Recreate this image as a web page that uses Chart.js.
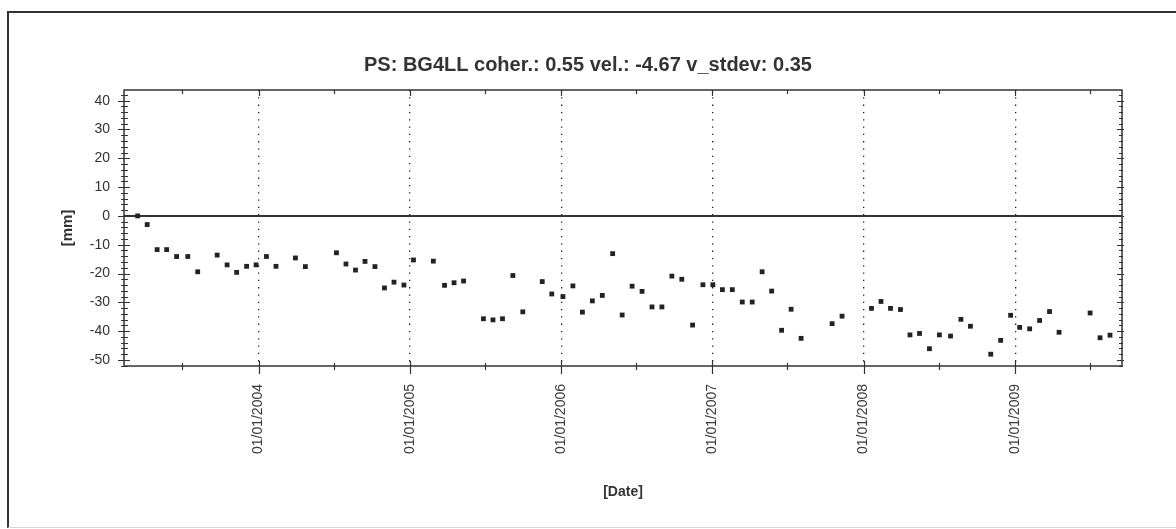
<!DOCTYPE html>
<html>
<head>
<meta charset="utf-8">
<title>PS BG4LL</title>
<script src="https://cdn.jsdelivr.net/npm/chart.js@4.4.1/dist/chart.umd.min.js"></script>
<style>
  html,body{margin:0;padding:0;background:#fff;overflow:hidden;}
  #wrap{position:relative;width:1176px;height:529px;}
  #psChart{position:absolute;left:0;top:0;}
  #frame{position:absolute;left:7px;top:11px;width:1180px;height:514px;border-left:2px solid #333;border-top:2px solid #333;border-bottom:1px solid #d8d8d8;pointer-events:none;}
</style>
</head>
<body>
<div id="wrap">
  <canvas id="psChart" width="1176" height="529"></canvas>
  <div id="frame"></div>
</div>
<script>
/* ── DATA ─────────────────────────────────────────────────── */
const dates = [
  '2003-03-15','2003-04-07','2003-05-01','2003-05-24','2003-06-17','2003-07-14','2003-08-07','2003-09-23','2003-10-17','2003-11-09','2003-12-03','2003-12-26',
  '2004-01-20','2004-02-12','2004-03-30','2004-04-23','2004-07-07','2004-07-30','2004-08-22','2004-09-14','2004-10-08','2004-10-31','2004-11-23','2004-12-17',
  '2005-01-09','2005-02-26','2005-03-25','2005-04-17','2005-05-10','2005-06-27','2005-07-20','2005-08-12','2005-09-06','2005-09-30','2005-11-16','2005-12-09',
  '2006-01-05','2006-01-29','2006-02-21','2006-03-17','2006-04-10','2006-05-05','2006-05-28','2006-06-21','2006-07-15','2006-08-08','2006-09-01','2006-09-25','2006-10-19','2006-11-14','2006-12-09',
  '2007-01-02','2007-01-25','2007-02-18','2007-03-14','2007-04-07','2007-05-01','2007-05-24','2007-06-17','2007-07-10','2007-08-03','2007-10-17','2007-11-10',
  '2008-01-20','2008-02-12','2008-03-06','2008-03-30','2008-04-22','2008-05-15','2008-06-08','2008-07-02','2008-07-29','2008-08-23','2008-09-15','2008-11-03','2008-11-27','2008-12-21',
  '2009-01-12','2009-02-05','2009-03-01','2009-03-25','2009-04-17','2009-07-01','2009-07-25','2009-08-18'
];
const displacement = [
  0,-3,-11.7,-11.7,-14.1,-14.1,-19.4,-13.6,-17.0,-19.6,-17.5,-17.0,
  -14.1,-17.5,-14.6,-17.6,-12.8,-16.7,-18.8,-15.8,-17.6,-25.0,-23.0,-24.0,
  -15.3,-15.7,-24.1,-23.2,-22.6,-35.7,-36.1,-35.7,-20.7,-33.3,-22.8,-27.1,
  -28.0,-24.3,-33.4,-29.5,-27.6,-13.1,-34.4,-24.4,-26.2,-31.6,-31.6,-20.9,-22.0,-37.9,-23.9,
  -23.9,-25.6,-25.6,-29.9,-29.9,-19.4,-26.1,-39.7,-32.4,-42.5,-37.4,-34.8,
  -32.1,-29.7,-32.1,-32.5,-41.3,-40.8,-46.1,-41.3,-41.7,-35.9,-38.3,-48.0,-43.2,-34.5,
  -38.7,-39.2,-36.3,-33.2,-40.4,-33.7,-42.3,-41.4
];
const yTicks    = [-50,-40,-30,-20,-10,0,10,20,30,40];
const yearTicks = [2004,2005,2006,2007,2008,2009];
const halfYears = [2003,2004,2005,2006,2007,2008,2009];
const xStart = '2003-02-10', xEnd = '2009-09-16';
const yMin = -52.1, yMax = 43.7;

const TITLE = 'PS: BG4LL coher.: 0.55 vel.: -4.67 v_stdev: 0.35';

/* ── FRAME + TICK MARKS ───────────────────────────────────── */
const frameTicks = {
  id:'frameTicks',
  afterDraw(chart){
    const {ctx, chartArea:a, scales:{x, y}} = chart;
    ctx.save();
    ctx.strokeStyle = '#333';
    ctx.lineWidth = 1.5;
    ctx.strokeRect(a.left, a.top, a.right-a.left, a.bottom-a.top);
    ctx.lineWidth = 1.2;
    ctx.beginPath();
    // y: major every 10, minor every 2
    for(let v=-52; v<=42; v+=2){
      const py = Math.round(y.getPixelForValue(v))+0.5;
      const major = yTicks.includes(v);
      ctx.moveTo(a.left-(major?6:3), py); ctx.lineTo(a.left+(major?6:4), py);
      ctx.moveTo(a.right-(major?5:3), py); ctx.lineTo(a.right+(major?2:1), py);
    }
    // x: years + half years
    yearTicks.forEach(yr=>{
      const px = Math.round(x.getPixelForValue(Date.UTC(yr,0,1)))+0.5;
      ctx.moveTo(px, a.bottom-5); ctx.lineTo(px, a.bottom+8);
      ctx.moveTo(px, a.top); ctx.lineTo(px, a.top+6);
    });
    halfYears.forEach(yr=>{
      const px = Math.round(x.getPixelForValue(Date.UTC(yr,6,1)))+0.5;
      ctx.moveTo(px, a.bottom-3); ctx.lineTo(px, a.bottom+4);
      ctx.moveTo(px, a.top); ctx.lineTo(px, a.top+4);
    });
    ctx.stroke();
    ctx.restore();
  }
};

/* ── CHART ────────────────────────────────────────────────── */
Chart.defaults.font.family = "'Liberation Sans', Arial, sans-serif";
Chart.defaults.color = '#333';

const points = dates.map((d,i)=>({x:Date.parse(d), y:displacement[i]}));

new Chart(document.getElementById('psChart'), {
  type:'scatter',
  data:{
    datasets:[{
      data:points,
      pointStyle:'rect',
      pointRadius:3.4,
      pointBorderWidth:0,
      backgroundColor:'#222',
      borderColor:'#222'
    }]
  },
  options:{
    responsive:false,
    animation:false,
    layout:{padding:0},
    plugins:{
      legend:{display:false},
      tooltip:{enabled:false},
      title:{display:true, text:TITLE, color:'#333', font:{size:20, weight:'bold'}, padding:{top:53, bottom:13}}
    },
    scales:{
      x:{
        type:'linear',
        min:Date.parse(xStart), max:Date.parse(xEnd),
        afterBuildTicks:s=>{ s.ticks = yearTicks.map(yr=>({value:Date.UTC(yr,0,1)})); },
        afterFit:s=>{ s.height = 163; },
        grid:{color:'#222', lineWidth:1.3, drawTicks:false},
        border:{display:false, dash:[1.3,6]},
        ticks:{
          autoSkip:false, minRotation:90, maxRotation:90, padding:18,
          font:{size:14}, color:'#3a3a3a',
          callback:v=>'01/01/'+new Date(v).getUTCFullYear()
        },
        title:{display:true, text:'[Date]', color:'#333', font:{size:14, weight:'bold'}, padding:{top:0, bottom:28}}
      },
      y:{
        min:yMin, max:yMax,
        afterBuildTicks:s=>{ s.ticks = yTicks.map(v=>({value:v})); },
        afterFit:s=>{ s.width = 124; },
        grid:{
          drawTicks:false,
          color:c=>c.tick && c.tick.value===0 ? '#333' : 'rgba(0,0,0,0)',
          lineWidth:c=>c.tick && c.tick.value===0 ? 2 : 0
        },
        border:{display:false},
        ticks:{padding:14, font:{size:14}, color:'#333'},
        title:{display:true, text:'[mm]', color:'#333', font:{size:15, weight:'bold'}, padding:{top:59, bottom:0}}
      },
      y2:{
        position:'right',
        min:yMin, max:yMax,
        afterFit:s=>{ s.width = 54; },
        grid:{display:false},
        border:{display:false},
        ticks:{display:false}
      }
    }
  },
  plugins:[frameTicks]
});
</script>
</body>
</html>
